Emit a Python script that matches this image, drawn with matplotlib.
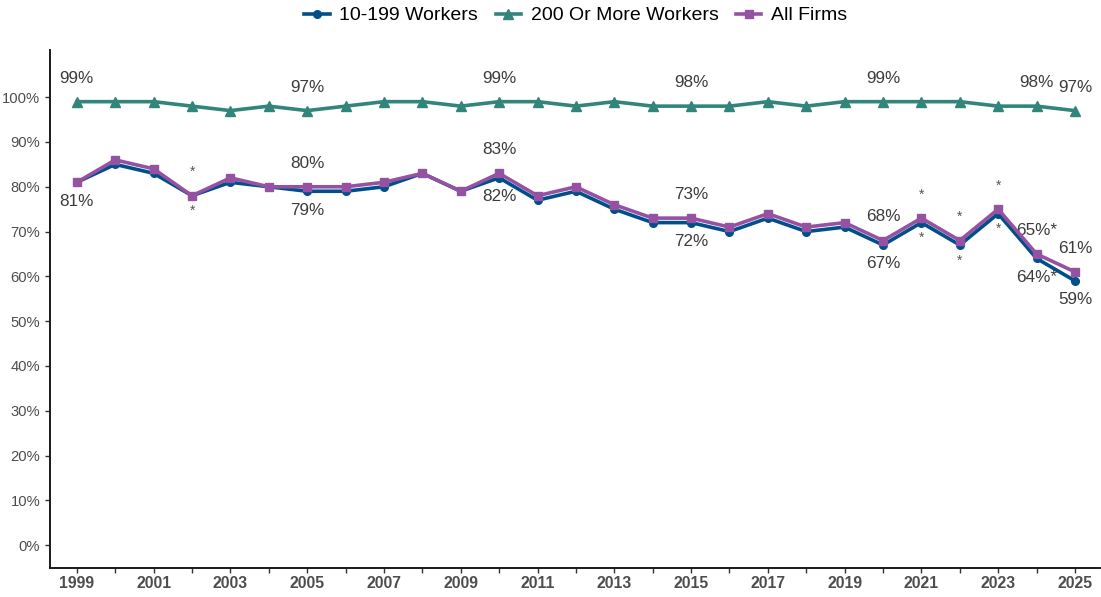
import matplotlib
matplotlib.use("Agg")
import matplotlib.pyplot as plt
from matplotlib.ticker import FixedLocator

plt.rcParams["font.family"] = ["Liberation Sans", "DejaVu Sans"]

years = list(range(1999, 2026))

small_firms = [81, 85, 83, 78, 81, 80, 79, 79, 80, 83, 79, 82, 77, 79, 75,
               72, 72, 70, 73, 70, 71, 67, 72, 67, 74, 64, 59]
large_firms = [99, 99, 99, 98, 97, 98, 97, 98, 99, 99, 98, 99, 99, 98, 99,
               98, 98, 98, 99, 98, 99, 99, 99, 99, 98, 98, 97]
all_firms = [81, 86, 84, 78, 82, 80, 80, 80, 81, 83, 79, 83, 78, 80, 76,
             73, 73, 71, 74, 71, 72, 68, 73, 68, 75, 65, 61]

series_names = ["10-199 Workers", "200 Or More Workers", "All Firms"]

# years whose values get a printed label
labeled_years = [1999, 2005, 2010, 2015, 2020, 2024, 2025]
# years flagged as statistically different from the prior year
flagged_years = [2002, 2021, 2022, 2023]

c_small = "#004F8B"
c_large = "#32857A"
c_all = "#9552A3"
text_c = "#3C3C3C"

fig = plt.figure(figsize=(11.01, 5.97), dpi=100)
ax = fig.add_axes([0.0454, 0.0486, 0.9536, 0.8674])

ax.plot(years, small_firms, color=c_small, lw=2.6, marker="o", ms=5.5,
        label=series_names[0], zorder=3)
ax.plot(years, large_firms, color=c_large, lw=2.6, marker="^", ms=6.5,
        label=series_names[1], zorder=3)
ax.plot(years, all_firms, color=c_all, lw=2.6, marker="s", ms=5.5,
        label=series_names[2], zorder=4)

lab_fs = 12.3


def pct(v, star=False):
    return f"{v}%" + ("*" if star else "")


for y in labeled_years:
    i = years.index(y)
    # 200+ workers: above
    ax.annotate(pct(large_firms[i]), (y, large_firms[i]), xytext=(0, 17),
                textcoords="offset points", ha="center", va="center",
                fontsize=lab_fs, color=text_c)
    # 10-199 workers: below
    ax.annotate(pct(small_firms[i], y == 2024), (y, small_firms[i]),
                xytext=(0, -13.5), textcoords="offset points", ha="center",
                va="center", fontsize=lab_fs, color=text_c)
    # all firms: above (the first year coincides with 10-199)
    if y != 1999:
        ax.annotate(pct(all_firms[i], y == 2024), (y, all_firms[i]),
                    xytext=(0, 17), textcoords="offset points", ha="center",
                    va="center", fontsize=lab_fs, color=text_c)

for y in flagged_years:
    i = years.index(y)
    ax.annotate("*", (y, all_firms[i]), xytext=(0, 17),
                textcoords="offset points", ha="center", va="center",
                fontsize=10, color="#555555")
    ax.annotate("*", (y, small_firms[i]), xytext=(0, -11),
                textcoords="offset points", ha="center", va="center",
                fontsize=10, color="#555555")

ax.set_xlim(1998.3, 2025.65)
ax.set_ylim(-5.1, 110.5)

ax.xaxis.set_major_locator(FixedLocator(years))
ax.set_xticklabels([str(y) if (y - 1999) % 2 == 0 else "" for y in years],
                   fontsize=11.3, fontweight="bold", color="#4D4D4D")
yt = list(range(0, 101, 10))
ax.set_yticks(yt)
ax.set_yticklabels([f"{v}%" for v in yt], fontsize=10.6, color="#4D4D4D")
ax.tick_params(axis="both", direction="out", length=3.5, width=1.0,
               color="#333333")
ax.tick_params(axis="x", pad=2)

for s in ["top", "right"]:
    ax.spines[s].set_visible(False)
for s in ["left", "bottom"]:
    ax.spines[s].set_linewidth(1.4)
    ax.spines[s].set_color("#1A1A1A")

fig.legend(loc="upper center", bbox_to_anchor=(0.523, 1.018), ncol=3,
           frameon=False, fontsize=14, handlelength=1.3, columnspacing=0.9,
           handletextpad=0.5)

fig.savefig("out.png", dpi=100)
